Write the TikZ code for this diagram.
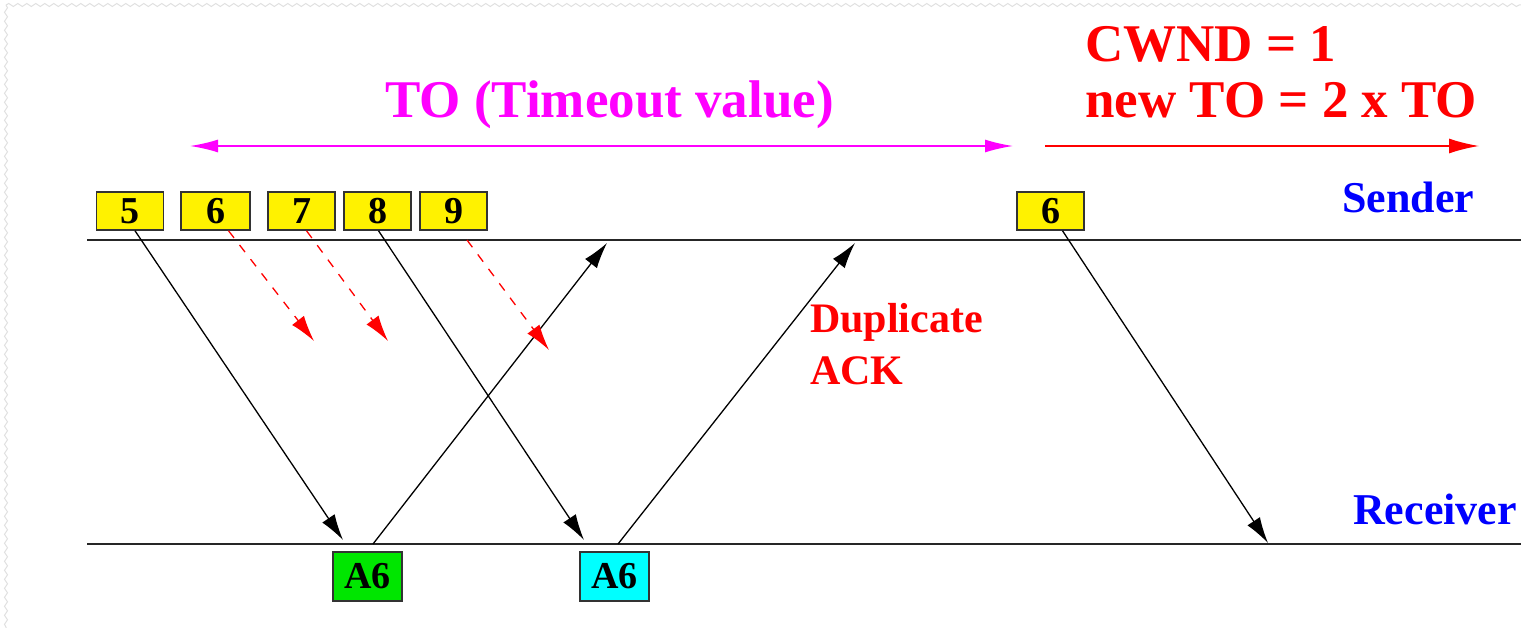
\documentclass[tikz,border=0pt]{standalone}
\usepackage{fontspec}
\setmainfont{Liberation Serif}
\usetikzlibrary{arrows.meta,decorations.pathmorphing}
\definecolor{tomag}{RGB}{255,0,255}
\definecolor{tored}{RGB}{255,0,0}
\definecolor{toblue}{RGB}{0,0,255}
\definecolor{togreen}{RGB}{0,230,0}
\definecolor{tocyan}{RGB}{0,255,255}
\begin{document}
\begin{tikzpicture}[x=1pt,y=-1pt,
  pkt/.style={draw=black!80,line width=1.5pt,fill=yellow,minimum width=67pt,minimum height=38pt,inner sep=0pt,font=\fontsize{38}{38}\selectfont\bfseries},
  ack/.style={pkt,minimum width=69pt,minimum height=49pt},
  msg/.style={line width=1.3pt,-{Latex[length=26pt,width=15pt]}},
  lost/.style={msg,tored,dashed,dash pattern=on 9pt off 9pt},
  timeline/.style={line width=2.2pt,black!85},
  lbl/.style={font=\fontsize{44}{44}\selectfont\bfseries,anchor=base west,inner sep=0pt},
  big/.style={font=\fontsize{53}{53}\selectfont\bfseries,anchor=base west,inner sep=0pt}]
\useasboundingbox (0,0) rectangle (1521,628);
\fill[white] (0,0) rectangle (1521,628);
% decorative wavy border
\draw[black!12,line width=1pt,decorate,decoration={snake,segment length=9pt,amplitude=1.5pt}] (6,5) -- (1521,5);
\draw[black!12,line width=1pt,decorate,decoration={snake,segment length=9pt,amplitude=1.5pt}] (6,5) -- (6,628);

% timelines
\coordinate (s0) at (87,240); \coordinate (s1) at (1521,240);
\coordinate (r0) at (87,544); \coordinate (r1) at (1521,544);
\draw[timeline] (s0) -- (s1);
\draw[timeline] (r0) -- (r1);

% packets
\node[pkt] (p5) at (130,211) {5};
\node[pkt,minimum width=69pt] (p6) at (215.5,211) {6};
\node[pkt] (p7) at (301.5,211) {7};
\node[pkt] (p8) at (377.5,211) {8};
\node[pkt] (p9) at (453.5,211) {9};
\node[pkt] (q6) at (1050.5,211) {6};
\node[ack,fill=togreen] (a1) at (367.5,576.5) {A6};
\node[ack,fill=tocyan] (a2) at (614.5,576.5) {A6};

% arrow endpoints
\coordinate (e5) at (343,540);
\coordinate (e8) at (584,540);
\coordinate (e6) at (314,341);
\coordinate (e7) at (388,341);
\coordinate (e9) at (549,350);
\coordinate (k1s) at (373,544);
\coordinate (k1e) at (607,243);
\coordinate (k2s) at (618,544);
\coordinate (k2e) at (855,243);
\coordinate (eq) at (1268,543);

\draw[msg] (p5.south) ++(5,0) coordinate (b5) -- (e5);
\draw[msg] (p8.south) ++(1,0) coordinate (b8) -- (e8);
\draw[msg] (k1s) -- (k1e);
\draw[msg] (k2s) -- (k2e);
\draw[msg] (q6.south) ++(12,0) coordinate (bq) -- (eq);
\draw[lost] (p6.south) ++(13,0) coordinate (b6) -- (e6);
\draw[lost] (p7.south) ++(5,0) coordinate (b7) -- (e7);
\coordinate (b9) at (467,240);
\draw[lost] (b9) -- (e9);

% timeout arrows
\coordinate (t0) at (190,146); \coordinate (t1) at (1013,146);
\draw[tomag,line width=1.6pt,{Latex[length=28pt,width=13pt]}-{Latex[length=28pt,width=13pt]}] (t0) -- (t1);
\coordinate (u0) at (1045,146); \coordinate (u1) at (1479,146);
\draw[tored,line width=1.6pt,-{Latex[length=30pt,width=15pt]}] (u0) -- (u1);

% labels
\node[big,tomag] (tolbl) at (385,118) {TO (Timeout value)};
\node[big,tored] (cw) at (1085,62) {CWND = 1};
\node[big,tored] (nto) at (1085,118) {new TO = 2 x TO};
\node[lbl,toblue] (snd) at (1342,213) {Sender};
\node[lbl,toblue] (rcv) at (1353,524) {Receiver};
\node[lbl,tored,font=\fontsize{42}{42}\selectfont\bfseries] (dup) at (810,333) {Duplicate};
\node[lbl,tored,font=\fontsize{42}{42}\selectfont\bfseries] (dack) at (810,384) {ACK};
\end{tikzpicture}
\end{document}
